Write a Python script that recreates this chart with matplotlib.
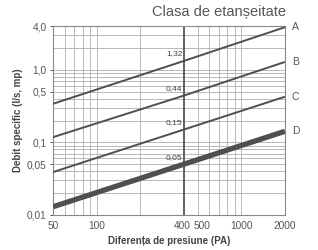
import matplotlib
matplotlib.use("Agg")

import matplotlib.pyplot as plt
import matplotlib.ticker as mticker
import matplotlib.transforms as mtrans

plt.rcParams['font.family'] = ['Liberation Sans', 'DejaVu Sans']

###-------------------data------------------------###
pressure = [50, 400, 2000]
class_a = [0.34, 1.32, 3.85]
class_b = [0.118, 0.44, 1.28]
class_c = [0.039, 0.15, 0.425]
class_d = [0.013, 0.05, 0.142]
class_names = ["A", "B", "C", "D"]
labels_400 = ["1,32", "0,44", "0,15", "0,05"]

x_ticks = [50, 100, 400, 500, 1000, 2000]
x_grid = [60, 70, 80, 90, 100, 200, 500, 600, 700, 800, 900, 1000]
y_ticks = [0.01, 0.05, 0.1, 0.5, 1.0, 4.0]
y_tick_labels = ["0,01", "0,05", "0,1", "0,5", "1,0", "4,0"]
y_grid = [0.02, 0.03, 0.04, 0.05, 0.06, 0.07, 0.08, 0.09, 0.1,
          0.2, 0.3, 0.4, 0.5, 0.6, 0.7, 0.8, 0.9, 1.0, 2.0, 3.0]

###-------------------figure------------------------###
fig = plt.figure(figsize=(3.18, 2.5), dpi=100, facecolor="white")
ax = fig.add_axes([0.167, 0.14, 0.729, 0.756])
ax.set_xscale("log")
ax.set_yscale("log")
ax.set_xlim(50, 2000)
ax.set_ylim(0.01, 4.0)

grid_col = "#b8b8b8"
for gx in x_grid:
    ax.axvline(gx, color=grid_col, lw=0.7, zorder=1)
for gy in y_grid:
    ax.axhline(gy, color=grid_col, lw=0.7, zorder=1)
ax.axvline(400, color="#555555", lw=1.3, zorder=2)

line_col = "#4f4f4f"
series = [class_a, class_b, class_c, class_d]
widths = [1.4, 1.4, 1.4, 3.8]
for vals, w, name, lab in zip(series, widths, class_names, labels_400):
    ax.plot(pressure, vals, color=line_col, lw=w, zorder=3, solid_capstyle="butt")
    ax.annotate(name, (pressure[-1], vals[-1]), xytext=(5, 0),
                textcoords="offset points", va="center", ha="left",
                fontsize=7.5, color="#555555", annotation_clip=False)
    ax.annotate(lab, (400, vals[1]), xytext=(-1, 2.5),
                textcoords="offset points", va="bottom", ha="right",
                fontsize=6, color="#444444")

for side in ["top", "right", "left", "bottom"]:
    ax.spines[side].set_color("#8a8a8a")
    ax.spines[side].set_linewidth(0.8)

ax.xaxis.set_major_locator(mticker.FixedLocator(x_ticks))
ax.xaxis.set_major_formatter(mticker.FixedFormatter([str(v) for v in x_ticks]))
ax.xaxis.set_minor_locator(mticker.NullLocator())
ax.yaxis.set_major_locator(mticker.FixedLocator(y_ticks))
ax.yaxis.set_major_formatter(mticker.FixedFormatter(y_tick_labels))
ax.yaxis.set_minor_locator(mticker.NullLocator())
ax.tick_params(axis="both", labelsize=7.3, colors="#555555", length=2.5,
               width=0.7, pad=2)
ax.tick_params(axis="x", length=0, pad=4)

###-------------nudge 400 / 500 apart----------------###
fig.canvas.draw()
for tl in ax.get_xticklabels():
    if tl.get_text() == "400":
        tl.set_transform(tl.get_transform() + mtrans.ScaledTranslation(-2 / 100, 0, fig.dpi_scale_trans))
    elif tl.get_text() == "500":
        tl.set_transform(tl.get_transform() + mtrans.ScaledTranslation(4 / 100, 0, fig.dpi_scale_trans))

ax.set_xlabel("Diferența de presiune (PA)", fontsize=7, fontweight="bold",
              color="#444444", labelpad=4)
ax.set_ylabel("Debit specific (l/s, mp)", fontsize=7, fontweight="bold",
              color="#444444", labelpad=3)
fig.text(0.9, 0.925, "Clasa de etanșeitate", ha="right", va="bottom",
         fontsize=10.5, color="#555555")

plt.savefig("out.png", dpi=100)
